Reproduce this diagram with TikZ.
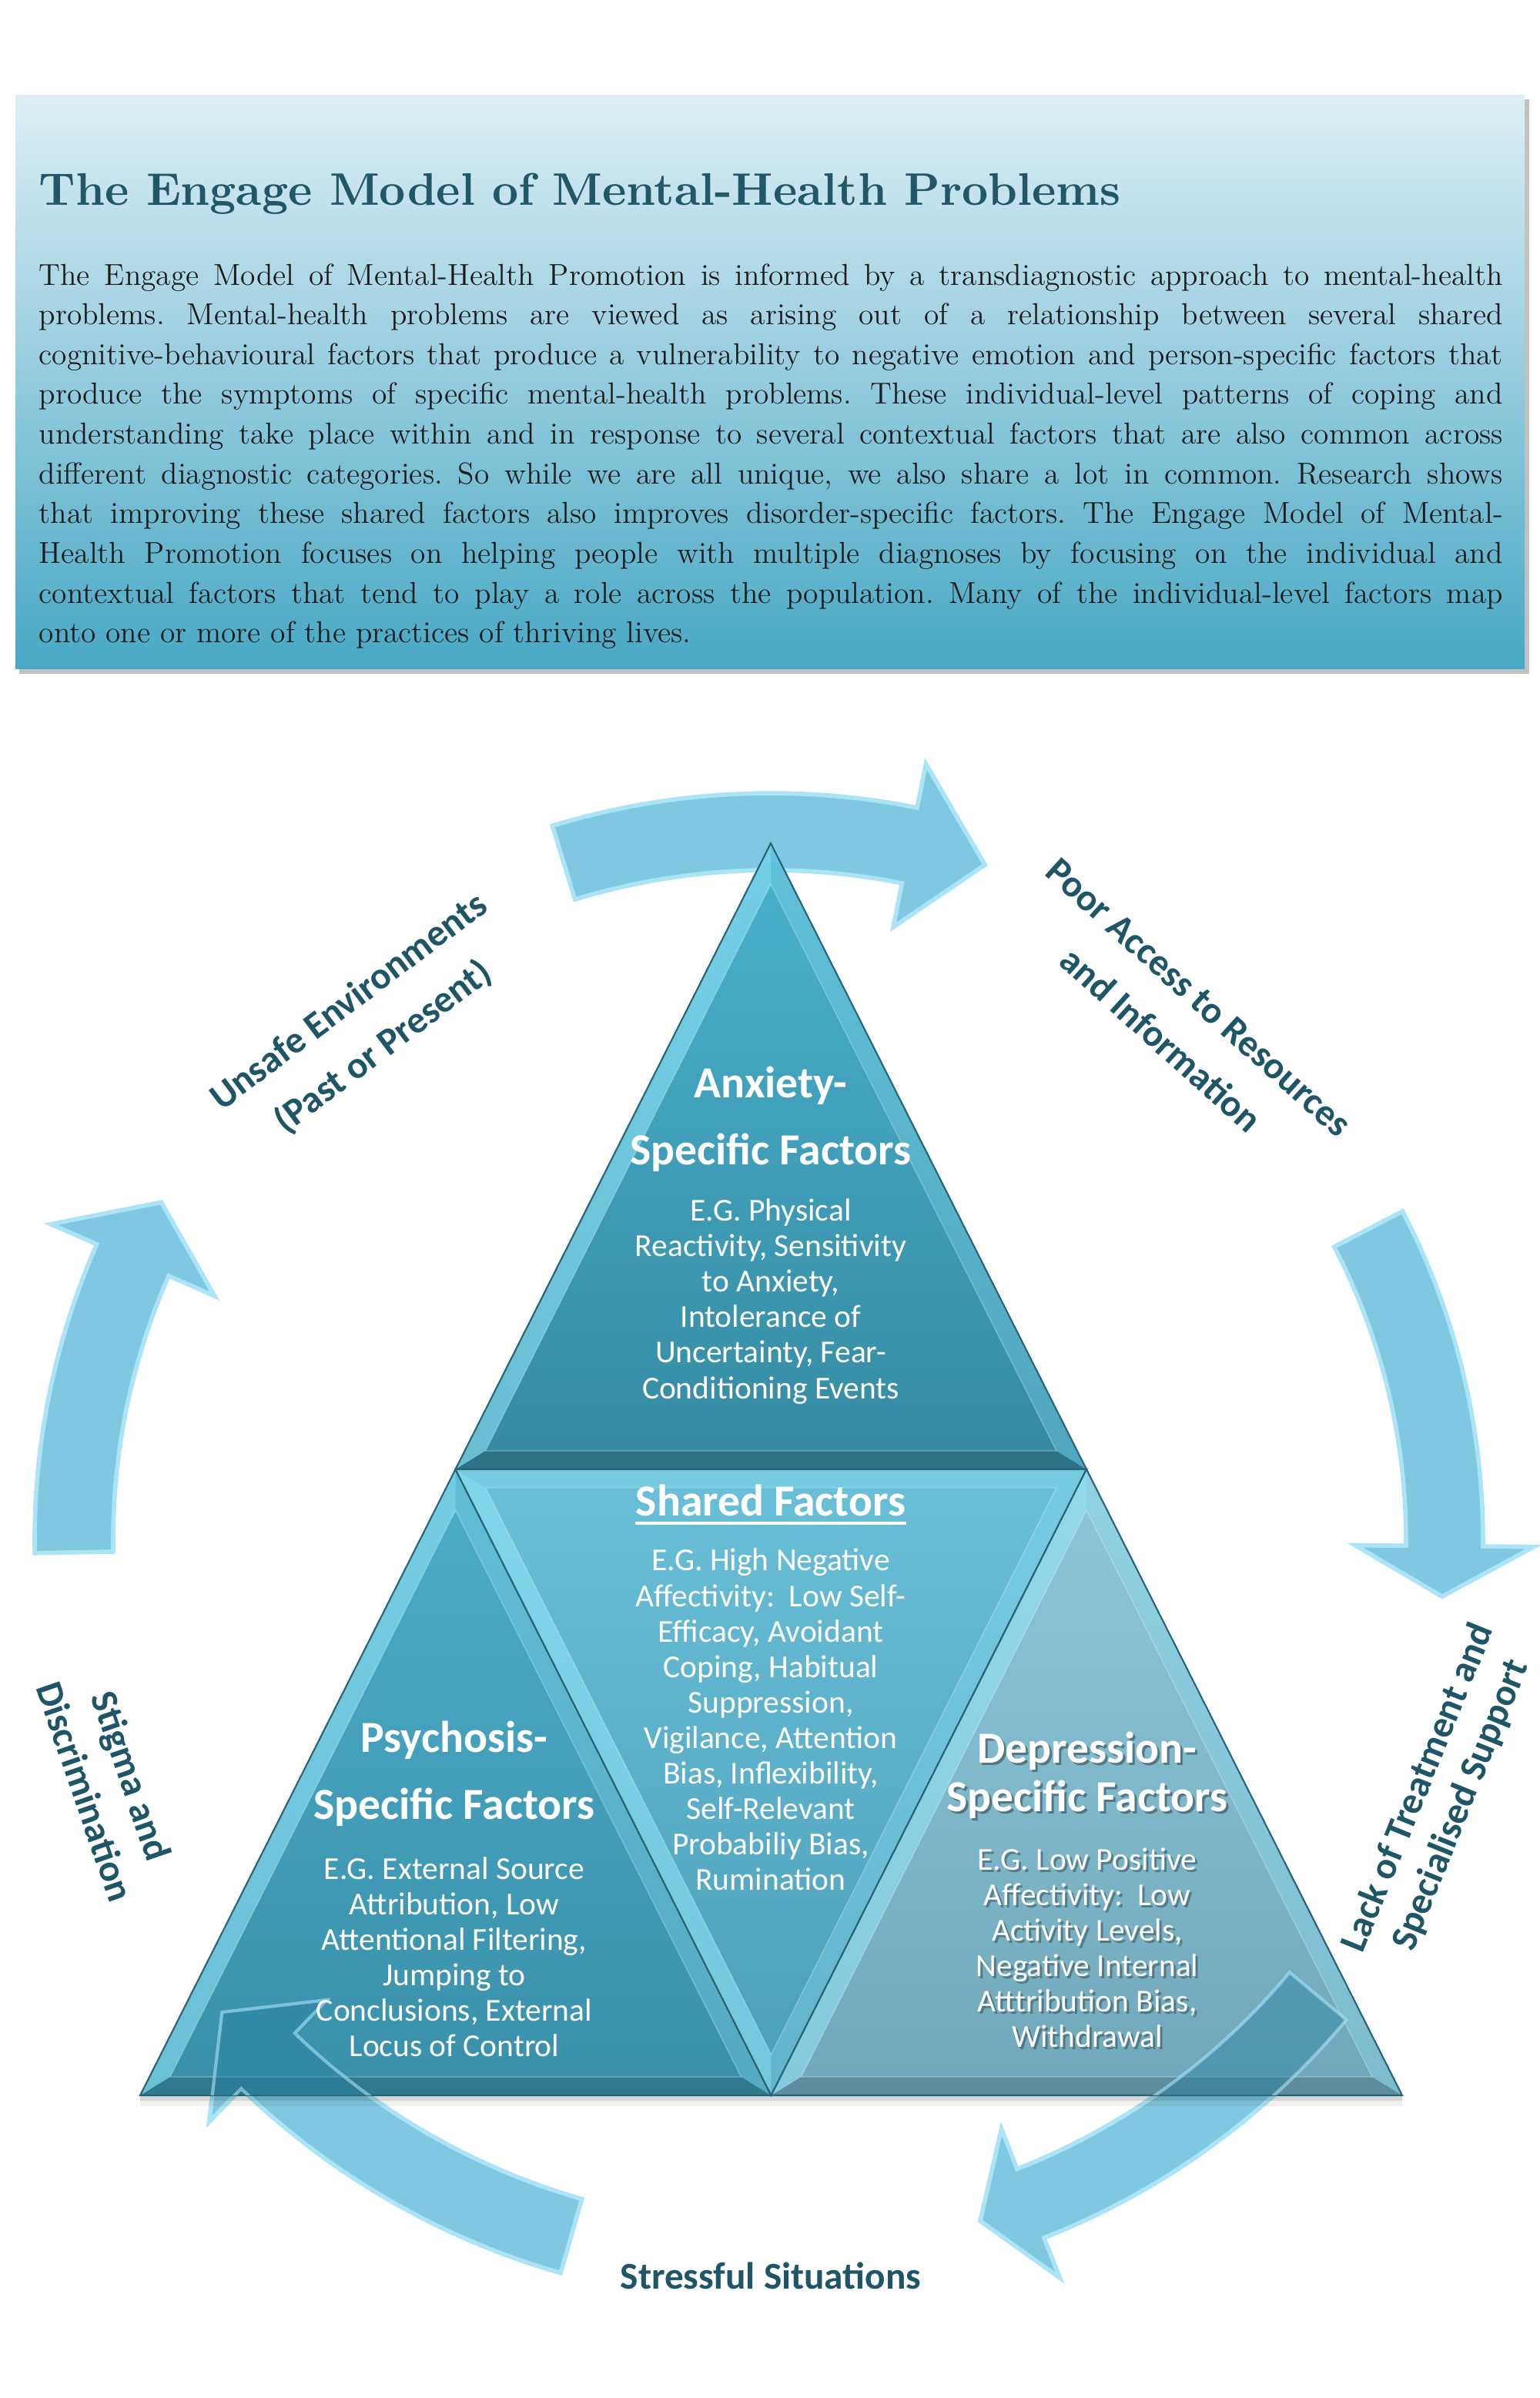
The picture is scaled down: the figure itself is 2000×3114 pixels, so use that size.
\documentclass[tikz,border=0pt]{standalone}
\usepackage{fontspec}
\usepackage{graphicx}
\newfontfamily\carlito{Carlito}
\usetikzlibrary{calc}
\definecolor{labelc}{RGB}{30,85,103}
\definecolor{titlec}{RGB}{33,88,104}
\definecolor{bodyc}{RGB}{28,28,28}
\definecolor{hdrtop}{RGB}{222,239,245}
\definecolor{hdrbot}{RGB}{72,168,197}
\definecolor{arrfill}{RGB}{128,199,225}
\definecolor{arredge}{RGB}{170,228,246}
\definecolor{arrdark}{RGB}{40,128,162}
\definecolor{anxtop}{RGB}{74,178,206}
\definecolor{anxbot}{RGB}{54,138,162}
\definecolor{psytop}{RGB}{76,172,200}
\definecolor{psybot}{RGB}{58,144,170}
\definecolor{shtop}{RGB}{106,192,216}
\definecolor{shbot}{RGB}{76,158,184}
\definecolor{deptop}{RGB}{142,200,218}
\definecolor{depbot}{RGB}{112,168,186}
\definecolor{bevlight}{RGB}{150,232,250}
\definecolor{edgec}{RGB}{40,100,118}

\newcommand{\ringarrow}[9]{%
 \path[#1] ($(#2,#3)+(#7:#4+#5)$) arc[start angle=#7, end angle=#8, radius=#4+#5]
   -- ($(#2,#3)+(#8:#4+#6)$) -- ($(#2,#3)+(#9:#4)$) -- ($(#2,#3)+(#8:#4-#6)$)
   -- ($(#2,#3)+(#8:#4-#5)$) arc[start angle=#8, end angle=#7, radius=#4-#5] -- cycle;}

\newcommand{\bevtri}[9]{%
 \coordinate (qa) at ($(#4)!0.905!(#1)$);
 \coordinate (qb) at ($(#4)!0.905!(#2)$);
 \coordinate (qc) at ($(#4)!0.905!(#3)$);
 \shade[top color=#5, bottom color=#6] (#1)--(#2)--(#3)--cycle;
 \fill[#7] (#1)--(#2)--(qb)--(qa)--cycle;
 \fill[#8] (#2)--(#3)--(qc)--(qb)--cycle;
 \fill[#9] (#3)--(#1)--(qa)--(qc)--cycle;
 \draw[white, draw opacity=0.25, line width=0.4pt] (qa)--(qb)--(qc)--cycle;
 \draw[edgeline] (#1)--(#2)--(#3)--cycle;}

\begin{document}
\begin{tikzpicture}[x=0.01cm,y=-0.01cm,
  lbl/.style={text=labelc, font=\carlito\bfseries\fontsize{14}{21}\selectfont, align=center, inner sep=0},
  ttl/.style={text=white, font=\carlito\bfseries\fontsize{16.4}{24.7}\selectfont, align=center, inner sep=0},
  bdy/.style={text=white, font=\carlito\fontsize{11.8}{13.1}\selectfont, align=center, inner sep=0},
  arrowbody/.style={fill=arrfill, draw=arredge, line width=1.6pt, line join=miter},
  arrowglass/.style={fill=arrdark, fill opacity=0.45, draw=arredge, draw opacity=0.6, line width=1.2pt},
  edgeline/.style={draw=edgec, line width=0.6pt},
  bl/.style={fill=bevlight, fill opacity=0.55},
  bm/.style={fill=bevlight, fill opacity=0.3},
  bd/.style={fill=black, fill opacity=0.16}]

\useasboundingbox (0,0) rectangle (2000,3114);
\fill[white] (0,0) rectangle (2000,3114);

% ---------- header ----------
\fill[black!40, opacity=0.6] (25,129) rectangle (1986,875);
\shade[top color=hdrtop, bottom color=hdrbot] (20,123) rectangle (1980,868);
\node[anchor=base west, inner sep=0, text=titlec] (title) at (50,266)
  {\resizebox{14.04cm}{!}{\bfseries The Engage Model of Mental-Health Problems}};
\node[anchor=base west, inner sep=0, text=bodyc] (body) at (50,370) {\parbox[t]{19cm}{%
\fontsize{11.2}{14.68}\selectfont\frenchspacing
\makebox[\linewidth][s]{The Engage Model of Mental-Health Promotion is informed by a transdiagnostic approach to mental-health}\\
\makebox[\linewidth][s]{problems. Mental-health problems are viewed as arising out of a relationship between several shared}\\
\makebox[\linewidth][s]{cognitive-behavioural factors that produce a vulnerability to negative emotion and person-specific factors that}\\
\makebox[\linewidth][s]{produce the symptoms of specific mental-health problems. These individual-level patterns of coping and}\\
\makebox[\linewidth][s]{understanding take place within and in response to several contextual factors that are also common across}\\
\makebox[\linewidth][s]{different diagnostic categories. So while we are all unique, we also share a lot in common. Research shows}\\
\makebox[\linewidth][s]{that improving these shared factors also improves disorder-specific factors. The Engage Model of Mental-}\\
\makebox[\linewidth][s]{Health Promotion focuses on helping people with multiple diagnoses by focusing on the individual and}\\
\makebox[\linewidth][s]{contextual factors that tend to play a role across the population. Many of the individual-level factors map}\\
onto one or more of the practices of thriving lives.}};

% ---------- ring arrows ----------
\ringarrow{arrowbody}{1001}{2000}{920}{50}{108}{-107}{-78.7}{-72.4}
\ringarrow{arrowbody}{1001}{2000}{875}{50}{116}{-27.5}{0.5}{4.8}
\ringarrow{arrowbody}{1001}{2000}{925}{48}{104}{39.8}{68.6}{72.9}
\ringarrow{arrowbody}{1001}{2000}{940}{50}{110}{106}{134}{139.3}
\ringarrow{arrowbody}{1001}{2000}{905}{51}{116}{179}{203.7}{209}

% ---------- triangles ----------
\coordinate (A) at (1001,1095);
\coordinate (B) at (182,2721);
\coordinate (C) at (1821,2721);
\coordinate (AB) at (591.5,1908);
\coordinate (AC) at (1411,1908);
\coordinate (BC) at (1001.5,2721);
\coordinate (I1) at (1001,1655.7);
\coordinate (I2) at (591.5,2468.7);
\coordinate (I3) at (1001,2160.3);
\coordinate (I4) at (1411,2468.7);

\fill[black, opacity=0.06] ([yshift=-4pt]B) -- ([yshift=-4pt]C) -- (C) -- (B) -- cycle;
\fill[black, opacity=0.10] ([yshift=-2pt]B) -- ([yshift=-2pt]C) -- (C) -- (B) -- cycle;

\bevtri{A}{AB}{AC}{I1}{anxtop}{anxbot}{bl}{bd}{bm}
\bevtri{AB}{B}{BC}{I2}{psytop}{psybot}{bl}{bd}{bm}
\bevtri{AB}{AC}{BC}{I3}{shtop}{shbot}{bm}{bm}{bl}
\bevtri{AC}{BC}{C}{I4}{deptop}{depbot}{bl}{bd}{bm}

% arrows seen through the triangle
\begin{scope}
\clip (A)--(B)--(C)--cycle;
\ringarrow{arrowglass}{1001}{2000}{925}{48}{104}{39.8}{68.6}{72.9}
\ringarrow{arrowglass}{1001}{2000}{940}{50}{110}{106}{134}{139.3}
\end{scope}

% ---------- triangle texts ----------
\node[ttl] (anxt) at (1001,1453) {Anxiety-\\Specific Factors};
\node[bdy] (anxb) at (1001,1690) {E.G. Physical\\Reactivity, Sensitivity\\to Anxiety,\\Intolerance of\\Uncertainty, Fear-\\Conditioning Events};

\node[ttl] (psyt) at (590,2303) {Psychosis-\\Specific Factors};
\node[bdy] (psyb) at (590,2541) {E.G. External Source\\Attribution, Low\\Attentional Filtering,\\Jumping to\\Conclusions, External\\Locus of Control};

\node[ttl] (sht) at (1001,1948) {Shared Factors};
\draw[white, line width=0.9pt] ($(sht.base west)+(0,10)$) -- ($(sht.base east)+(0,10)$);
\node[bdy] (shb) at (1001,2233) {E.G. High Negative\\Affectivity:~~Low Self-\\Efficacy, Avoidant\\Coping, Habitual\\Suppression,\\Vigilance, Attention\\Bias, Inflexibility,\\Self-Relevant\\Probabiliy Bias,\\Rumination};

\node[ttl, text=black, text opacity=0.35, font=\carlito\bfseries\fontsize{16.4}{17.9}\selectfont] (deptsh) at (1415,2308) {Depression-\\Specific Factors};
\node[ttl, font=\carlito\bfseries\fontsize{16.4}{17.9}\selectfont] (dept) at (1412,2305) {Depression-\\Specific Factors};
\node[bdy, text=black, text opacity=0.3] (depbsh) at (1415,2532) {E.G. Low Positive\\Affectivity:~~Low\\Activity Levels,\\Negative Internal\\Atttribution Bias,\\Withdrawal};
\node[bdy] (depb) at (1412,2529) {E.G. Low Positive\\Affectivity:~~Low\\Activity Levels,\\Negative Internal\\Atttribution Bias,\\Withdrawal};

% ---------- outer labels ----------
\node[lbl, rotate=37] (unsafe) at (476,1331) {Unsafe Environments\\(Past or Present)};
\node[lbl, rotate=-42] (poor) at (1532,1323) {Poor Access to Resources\\and Information};
\node[lbl, rotate=68, font=\carlito\bfseries\fontsize{14}{17}\selectfont] (lack) at (1870,2333) {Lack of Treatment and\\Specialised Support};
\node[lbl, rotate=-71, font=\carlito\bfseries\fontsize{14}{18}\selectfont] (stigma) at (141,2316) {Stigma and\\Discrimination};
\node[lbl] (stress) at (1001,2955) {Stressful Situations};
\end{tikzpicture}
\end{document}
